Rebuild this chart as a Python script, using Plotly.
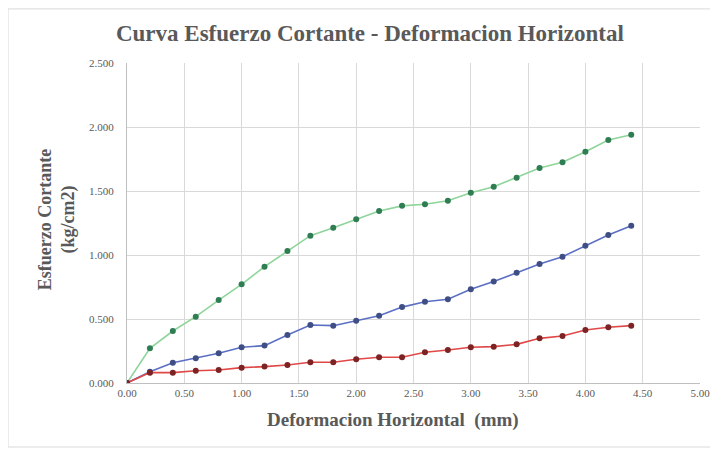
import plotly.graph_objects as go

# deformacion horizontal (mm)
deformacion = [0.0, 0.2, 0.4, 0.6, 0.8, 1.0, 1.2, 1.4, 1.6, 1.8, 2.0, 2.2,
               2.4, 2.6, 2.8, 3.0, 3.2, 3.4, 3.6, 3.8, 4.0, 4.2, 4.4]

# esfuerzo cortante (kg/cm2) for each specimen
esfuerzo_alto = [0.000, 0.271, 0.406, 0.518, 0.648, 0.771, 0.909, 1.031, 1.151, 1.213, 1.279, 1.344,
                 1.384, 1.396, 1.424, 1.487, 1.534, 1.604, 1.680, 1.724, 1.807, 1.898, 1.940]
esfuerzo_medio = [0.000, 0.088, 0.159, 0.193, 0.232, 0.279, 0.292, 0.375, 0.453, 0.448, 0.487, 0.526,
                  0.593, 0.635, 0.654, 0.732, 0.792, 0.862, 0.930, 0.987, 1.073, 1.156, 1.229]
esfuerzo_bajo = [0.000, 0.081, 0.081, 0.096, 0.102, 0.120, 0.128, 0.141, 0.162, 0.162, 0.185, 0.201,
                 0.201, 0.240, 0.258, 0.279, 0.284, 0.302, 0.349, 0.367, 0.414, 0.435, 0.448]

series = [
    (esfuerzo_alto, "#8fd49a", "#2f7d52"),
    (esfuerzo_medio, "#5b6fc4", "#3f4f86"),
    (esfuerzo_bajo, "#e04848", "#7d2323"),
]

fig = go.Figure()
for ys, line_col, mark_col in series:
    fig.add_trace(go.Scatter(
        x=deformacion, y=ys, mode="lines+markers",
        line=dict(color=line_col, width=1.6),
        marker=dict(color=mark_col, size=6, symbol="circle"),
        showlegend=False,
    ))

serif = "Liberation Serif"
txt = "#595959"
fig.update_layout(
    width=718, height=455,
    margin=dict(l=119, r=26, t=55, b=80),
    paper_bgcolor="white", plot_bgcolor="white",
    font=dict(family=serif, color=txt),
    title=dict(text="<b>Curva Esfuerzo Cortante - Deformacion Horizontal</b>",
               x=0.504, xanchor="center", y=0.945, yanchor="middle",
               font=dict(family=serif, size=23, color=txt)),
    xaxis=dict(range=[0, 5], dtick=0.5, tickformat=".2f",
               showgrid=True, gridcolor="#d9d9d9", gridwidth=1,
               showline=True, linecolor="#bfbfbf", zeroline=False,
               ticks="", tickfont=dict(size=11, color=txt)),
    yaxis=dict(range=[0, 2.5], dtick=0.5, tickformat=".3f",
               showgrid=True, gridcolor="#d9d9d9", gridwidth=1,
               showline=True, linecolor="#bfbfbf", zeroline=False,
               ticks="", ticklabelstandoff=10, tickfont=dict(size=11, color=txt)),
    annotations=[
        dict(text="<b>Deformacion Horizontal  (mm)</b>", xref="paper", yref="paper",
             x=0.464, y=-0.116, xanchor="center", yanchor="middle", showarrow=False,
             font=dict(family=serif, size=19, color=txt)),
        dict(text="<b>Esfuerzo Cortante<br>(kg/cm2)</b>", xref="paper", yref="paper",
             x=-0.122, y=0.509, xanchor="center", yanchor="middle", showarrow=False,
             textangle=-90, font=dict(family=serif, size=18, color=txt)),
    ],
    shapes=[dict(type="rect", xref="paper", yref="paper",
                 x0=-0.2077, x1=1.021, y0=-0.2, y1=1.169,
                 line=dict(color="#d9d9d9", width=1), layer="below")],
)

fig.write_html("out.html")
